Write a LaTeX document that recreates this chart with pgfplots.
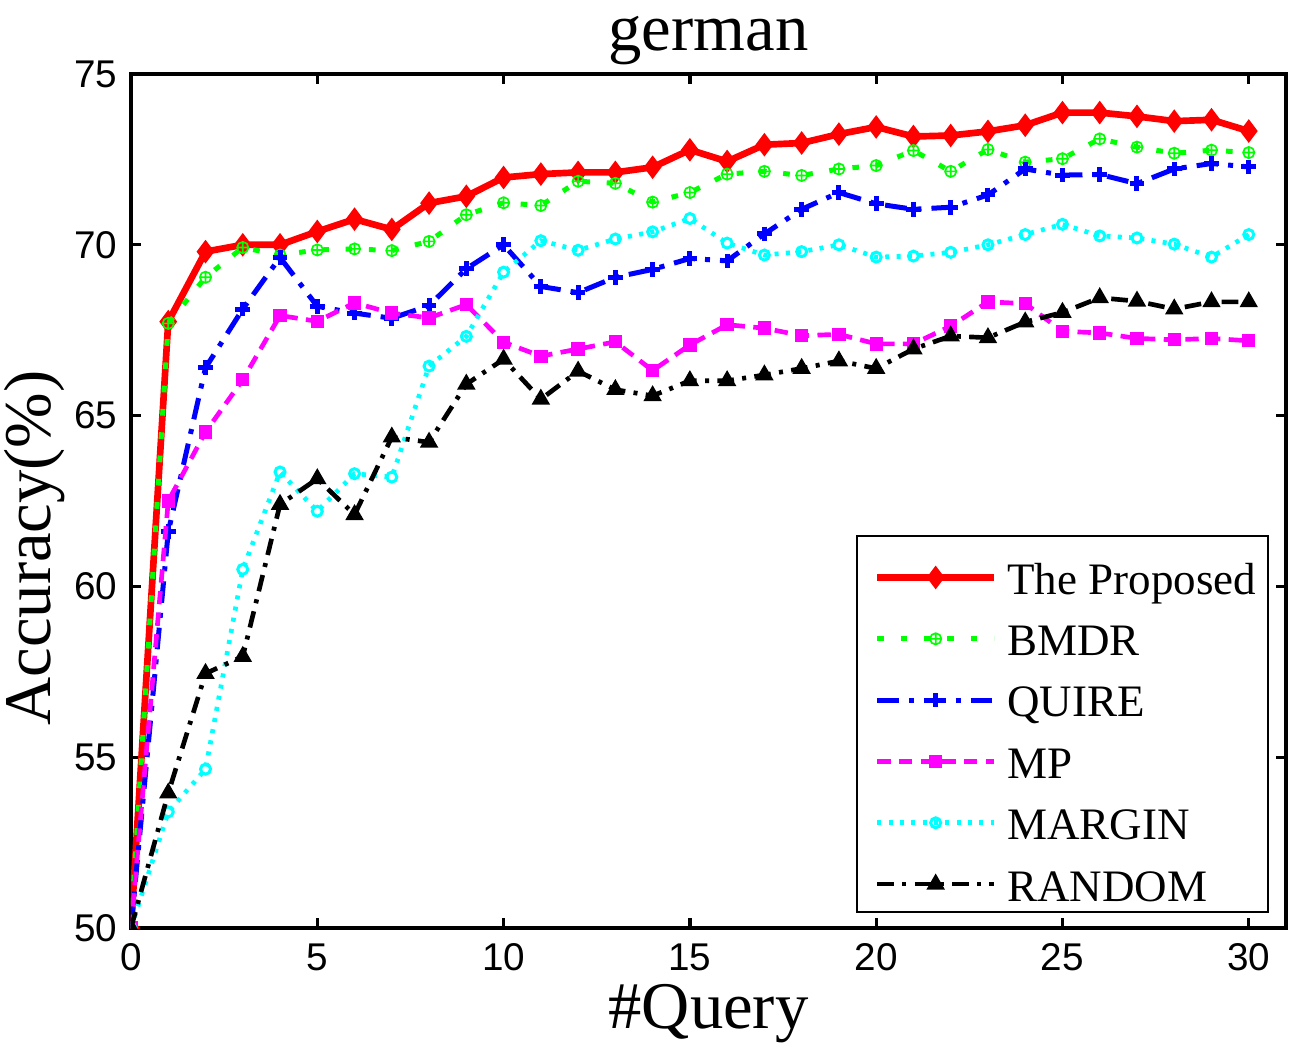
\documentclass[border=0pt]{standalone}
\usepackage{pgfplots}
\usepackage{pgfplotstable}
\pgfplotsset{compat=1.18}
\usepackage{fontspec}
\setmainfont{Liberation Serif}
\newfontfamily\helv{Liberation Sans}

% pure RGB line colours
\definecolor{lred}{rgb}{1,0,0}
\definecolor{lgreen}{rgb}{0,1,0}
\definecolor{lblue}{rgb}{0,0,1}
\definecolor{lmagenta}{rgb}{1,0,1}
\definecolor{lcyan}{rgb}{0,1,1}

% accuracy (%) after each query, one column per method
\pgfplotstableread{
x  prop   bmdr   quire  mp     margin random
0  50     50     50     50     50     50
1  67.75  67.70  61.60  62.50  53.40  53.95
2  69.80  69.05  66.40  64.52  54.65  57.45
3  70.00  69.92  68.12  66.05  60.50  57.95
4  70.00  69.70  69.63  67.93  63.35  62.40
5  70.39  69.85  68.20  67.76  62.20  63.15
6  70.75  69.88  68.00  68.30  63.30  62.10
7  70.45  69.83  67.85  68.00  63.20  64.37
8  71.22  70.10  68.22  67.86  66.45  64.22
9  71.42  70.88  69.30  68.25  67.32  65.92
10 71.97  71.23  70.00  67.15  69.20  66.65
11 72.07  71.15  68.78  66.74  70.12  65.48
12 72.12  71.86  68.60  66.95  69.84  66.30
13 72.12  71.80  69.05  67.16  70.17  65.76
14 72.27  71.25  69.28  66.32  70.38  65.58
15 72.78  71.53  69.60  67.07  70.77  66.02
16 72.44  72.07  69.53  67.66  70.05  66.02
17 72.93  72.15  70.32  67.56  69.70  66.19
18 72.98  72.03  71.04  67.34  69.80  66.38
19 73.24  72.22  71.53  67.38  70.00  66.60
20 73.45  72.32  71.20  67.10  69.64  66.38
21 73.17  72.76  71.04  67.10  69.67  66.95
22 73.20  72.15  71.10  67.62  69.78  67.33
23 73.32  72.79  71.46  68.33  70.00  67.28
24 73.50  72.42  72.22  68.28  70.30  67.74
25 73.87  72.52  72.04  67.47  70.60  68.02
26 73.87  73.10  72.06  67.42  70.26  68.45
27 73.76  72.86  71.79  67.26  70.20  68.35
28 73.62  72.68  72.22  67.22  70.02  68.12
29 73.66  72.77  72.38  67.26  69.64  68.33
30 73.33  72.70  72.28  67.19  70.30  68.33
}\acc

\begin{document}
\begin{tikzpicture}
\begin{axis}[
  scale only axis,
  width=346.5pt, height=256.2pt,
  xmin=0, xmax=31, ymin=50, ymax=75,
  xtick={0,5,...,30}, ytick={50,55,...,75},
  tick align=inside,
  major tick length=3pt,
  axis line style={line width=1pt},
  major tick style={line width=1pt, black},
  /pgf/number format/assume math mode=true,
  ticklabel style={font=\helv\fontsize{11.6}{12}\selectfont},
  xticklabel style={inner sep=0pt, yshift=-4.5pt},
  yticklabel style={inner sep=0pt, xshift=-3.9pt},
  title={german},
  every axis title shift=0pt,
  title style={at={(axis description cs:0.5,1.0281)}, anchor=base, font=\fontsize{20}{24}\selectfont},
  xlabel={\#Query},
  xlabel style={at={(axis description cs:0.5,-0.1171)}, anchor=base, font=\fontsize{20}{24}\selectfont},
  ylabel={Accuracy(\%)},
  ylabel style={at={(axis description cs:-0.0701,0.445)}, anchor=base, font=\fontsize{20}{24}\selectfont},
  clip marker paths=true,
  legend image code/.code={
    \path (-1.5pt,-2pt) (35pt,-2pt);
    \draw[mark repeat=2,mark phase=2] plot coordinates {(0pt,-2pt) (17.5pt,-2pt) (35pt,-2pt)};
  },
  legend style={
    at={(0.9853,0.0176)}, anchor=south east,
    draw=black, line width=0.6pt,
    inner xsep=3.6pt, inner ysep=1.3pt,
    row sep=0.3pt, column sep=3pt,
    nodes={inner sep=0pt, text height=16.1pt, text depth=2pt},
    font=\fontsize{13.5}{14}\selectfont,
  },
  legend cell align=left,
]
\addplot[color=lred, line width=2pt, mark=diamond*, mark size=1.9pt, mark options={solid}]
  table[x=x, y=prop] {\acc};
\addlegendentry{The Proposed}
\addplot[color=lgreen, line width=1.5pt, dash pattern=on 2pt off 5pt, mark=oplus, mark size=1.7pt, mark options={solid, line width=0.5pt}]
  table[x=x, y=bmdr] {\acc};
\addlegendentry{BMDR}
\addplot[color=lblue, line width=1.5pt, dash pattern=on 6.5pt off 3pt on 1.5pt off 3pt, mark=+, mark size=2.2pt, mark options={solid, line width=1.5pt}]
  table[x=x, y=quire] {\acc};
\addlegendentry{QUIRE}
\addplot[color=lmagenta, line width=1.4pt, dash pattern=on 4pt off 2.5pt, mark=square*, mark size=1.3pt, mark options={solid}]
  table[x=x, y=mp] {\acc};
\addlegendentry{MP}
\addplot[color=lcyan, line width=1.4pt, dash pattern=on 1.2pt off 2.2pt, mark=o, mark size=1.5pt, mark options={solid, line width=0.9pt, fill=white}]
  table[x=x, y=margin] {\acc};
\addlegendentry{MARGIN}
\addplot[color=black, line width=1.4pt, dash pattern=on 5pt off 2.5pt on 1.2pt off 2.5pt, mark=triangle*, mark size=1.8pt, mark options={solid}]
  table[x=x, y=random] {\acc};
\addlegendentry{RANDOM}
\end{axis}
\pgfresetboundingbox
\path[use as bounding box] ([xshift=-39.3pt,yshift=-38.4pt]current axis.south west) rectangle ([xshift=6.3pt,yshift=22.2pt]current axis.north east);
\end{tikzpicture}
\end{document}
